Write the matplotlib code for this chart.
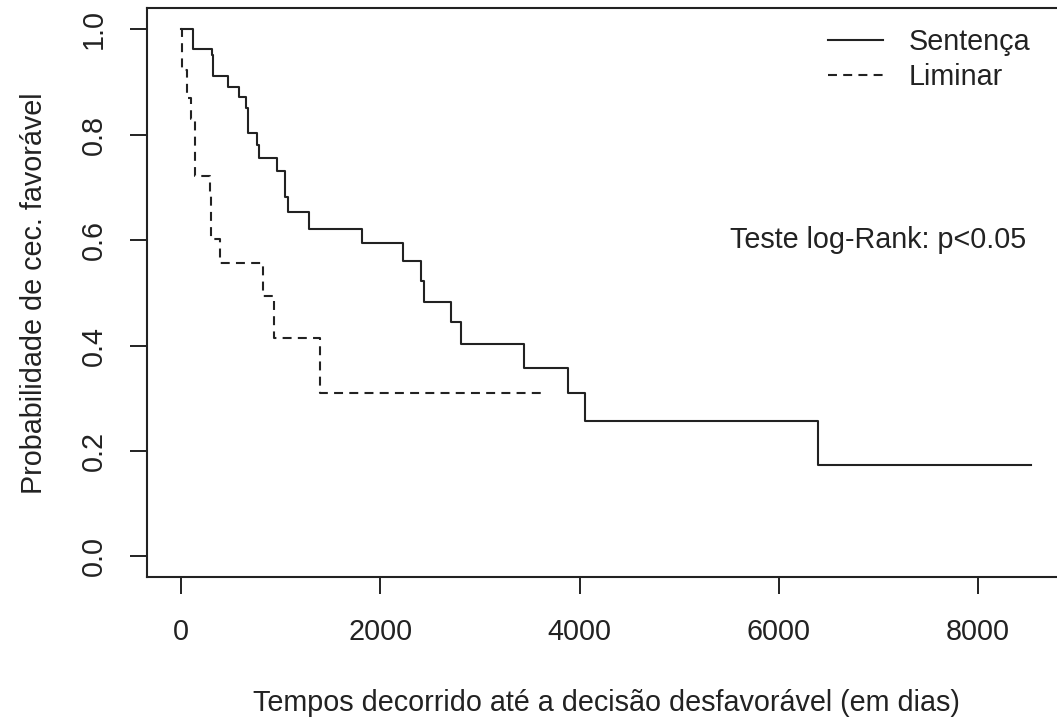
import matplotlib
matplotlib.use("Agg")
import matplotlib.pyplot as plt

# Kaplan-Meier step data
times_sentenca = [0, 117, 305, 318, 468, 579, 653, 666, 760, 777, 965, 1041, 1071,
                  1282, 1815, 2227, 2412, 2438, 2707, 2810, 3443, 3885, 4053, 6398, 8540]
surv_sentenca = [1.0, 0.962, 0.952, 0.911, 0.890, 0.872, 0.850, 0.804, 0.780, 0.755,
                 0.731, 0.681, 0.654, 0.622, 0.594, 0.560, 0.522, 0.483, 0.444, 0.403,
                 0.357, 0.309, 0.257, 0.173, 0.173]

times_liminar = [0, 6, 60, 95, 135, 284, 301, 392, 820, 931, 1393, 3634]
surv_liminar = [1.0, 0.923, 0.870, 0.830, 0.722, 0.686, 0.602, 0.556, 0.494, 0.415,
                0.309, 0.309]

x_ticks = [0, 2000, 4000, 6000, 8000]
y_ticks = [0.0, 0.2, 0.4, 0.6, 0.8, 1.0]
y_ticklabels = ["0.0", "0.2", "0.4", "0.6", "0.8", "1.0"]
legend_labels = ["Sentença", "Liminar"]

plt.rcParams["font.family"] = ["Liberation Sans", "DejaVu Sans"]
FS = 20.7
INK = "#222222"

W, H = 1057, 724
fig = plt.figure(figsize=(W / 100, H / 100), dpi=100)
left_px, right_px, top_px, bottom_px = 147.3, 1066.5, 8.2, 577.4
ax = fig.add_axes([left_px / W, (H - bottom_px) / H,
                   (right_px - left_px) / W, (bottom_px - top_px) / H])

lw = 1.5
l1, = ax.step(times_sentenca, surv_sentenca, where="post", color=INK, lw=lw,
              label=legend_labels[0])
l2, = ax.step(times_liminar, surv_liminar, where="post", color=INK, lw=lw,
              linestyle=(0, (4.3, 3.0)), label=legend_labels[1])

ax.set_xlim(-342, 8892)
ax.set_ylim(-0.04, 1.04)
ax.set_xticks(x_ticks)
ax.set_xticklabels([str(v) for v in x_ticks])
ax.set_yticks(y_ticks)
ax.set_yticklabels(y_ticklabels, rotation=90, va="center")
ax.tick_params(axis="both", direction="out", length=12, width=1.4, colors=INK,
               labelsize=FS, labelcolor=INK)
ax.tick_params(axis="x", pad=17.5)
ax.tick_params(axis="y", pad=16.5)
for s in ax.spines.values():
    s.set_linewidth(1.5)
    s.set_color(INK)

ax.set_xlabel("Tempos decorrido até a decisão desfavorável (em dias)", fontsize=FS,
              color=INK, labelpad=31)
ax.set_ylabel("Probabilidade de cec. favorável", fontsize=FS, color=INK, labelpad=23)

ax.text(7000, 0.6, "Teste log-Rank: p<0.05", fontsize=FS, color=INK,
        ha="center", va="center")

leg = fig.legend(handles=[l1, l2], loc="upper right",
                 bbox_to_anchor=(1030 / W, (H - 28) / H),
                 frameon=False, fontsize=FS, handlelength=1.9, handletextpad=0.9,
                 labelspacing=0.24, borderpad=0, borderaxespad=0, labelcolor=INK)

fig.savefig("out.png", dpi=100)
